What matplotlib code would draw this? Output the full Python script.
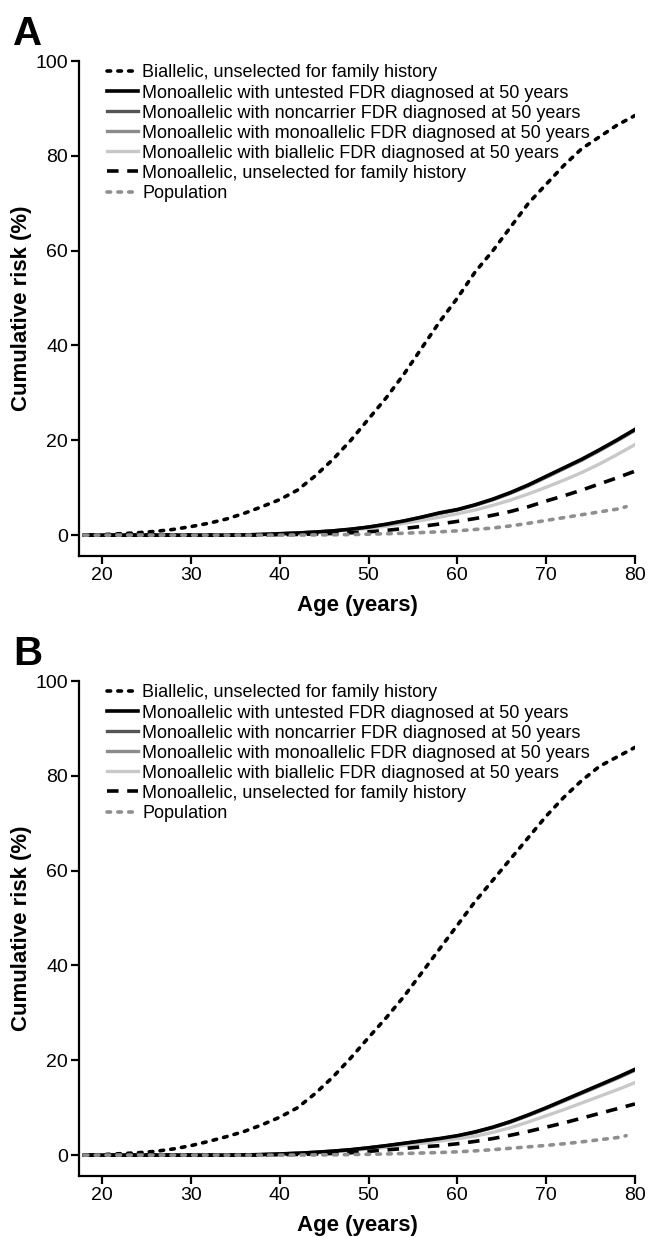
import matplotlib
matplotlib.use("Agg")
import matplotlib.pyplot as plt
import numpy as np

# ages (years) at which curves were read
ages = [18, 20, 22, 24, 26, 28, 30, 32, 34, 36, 38, 40, 42, 44, 46, 48, 50,
        52, 54, 56, 58, 60, 62, 64, 66, 68, 70, 72, 74, 76, 78, 80]
ages_pop = ages[:-1] + [79]

# panel A
A_biallelic = [0, 0.1, 0.3, 0.5, 0.8, 1.2, 1.8, 2.5, 3.4, 4.6, 6.0, 7.5, 9.5, 12.5, 16, 20, 24.5,
               29, 34, 39.5, 45, 50, 55.5, 60, 65, 70, 74, 78, 81.5, 84, 86.5, 88.5]
A_untested = [0, 0, 0, 0, 0, 0, 0, 0, 0, 0.05, 0.15, 0.3, 0.45, 0.65, 0.9, 1.25, 1.7,
              2.3, 3.0, 3.8, 4.7, 5.4, 6.4, 7.6, 9.0, 10.6, 12.4, 14.2, 16.0, 18.0, 20.1, 22.3]
A_noncarrier = [0, 0, 0, 0, 0, 0, 0, 0, 0, 0.05, 0.15, 0.3, 0.45, 0.65, 0.9, 1.25, 1.7,
                2.3, 3.0, 3.8, 4.65, 5.35, 6.35, 7.5, 8.9, 10.5, 12.3, 14.1, 15.9, 17.9, 20.0, 22.2]
A_monoFDR = [0, 0, 0, 0, 0, 0, 0, 0, 0, 0.05, 0.15, 0.3, 0.45, 0.65, 0.9, 1.2, 1.65,
             2.25, 2.95, 3.75, 4.6, 5.3, 6.3, 7.45, 8.85, 10.4, 12.2, 14.0, 15.8, 17.8, 19.9, 22.1]
A_bialFDR = [0, 0, 0, 0, 0, 0, 0, 0, 0, 0.05, 0.12, 0.25, 0.4, 0.55, 0.8, 1.1, 1.45,
             1.9, 2.5, 3.1, 3.8, 4.5, 5.3, 6.3, 7.4, 8.7, 10.1, 11.6, 13.2, 15.0, 17.0, 19.1]
A_unselected = [0, 0, 0, 0, 0, 0, 0, 0, 0, 0, 0.05, 0.1, 0.15, 0.25, 0.35, 0.5, 0.7,
                1.0, 1.4, 1.85, 2.35, 2.9, 3.5, 4.2, 5.0, 6.0, 7.2, 8.3, 9.5, 10.8, 12.1, 13.5]
A_population = [0, 0, 0, 0, 0, 0, 0, 0, 0, 0, 0, 0, 0.02, 0.05, 0.08, 0.12, 0.2,
                0.3, 0.4, 0.55, 0.7, 0.9, 1.2, 1.5, 1.95, 2.5, 3.1, 3.7, 4.3, 4.9, 5.5, 6.0]

# panel B
B_biallelic = [0, 0.1, 0.3, 0.5, 0.8, 1.3, 2.0, 2.9, 3.9, 5.0, 6.4, 8.0, 10.0, 13.0, 16.5, 20.5, 24.8,
               29, 33.5, 38.5, 43.5, 48.5, 53.5, 58, 62.5, 67, 71.5, 75.5, 79, 82, 84, 86]
B_untested = [0, 0, 0, 0, 0, 0, 0, 0, 0, 0.05, 0.12, 0.25, 0.4, 0.6, 0.85, 1.15, 1.55,
              2.0, 2.5, 3.0, 3.5, 4.1, 4.9, 5.9, 7.1, 8.5, 10.0, 11.6, 13.2, 14.8, 16.4, 18.1]
B_noncarrier = [0, 0, 0, 0, 0, 0, 0, 0, 0, 0.05, 0.12, 0.25, 0.4, 0.6, 0.85, 1.15, 1.55,
                2.0, 2.5, 3.0, 3.45, 4.05, 4.85, 5.85, 7.0, 8.4, 9.9, 11.5, 13.1, 14.7, 16.3, 18.0]
B_monoFDR = [0, 0, 0, 0, 0, 0, 0, 0, 0, 0.05, 0.12, 0.25, 0.4, 0.6, 0.8, 1.1, 1.5,
             1.95, 2.45, 2.95, 3.4, 4.0, 4.8, 5.8, 6.95, 8.35, 9.85, 11.4, 13.0, 14.6, 16.2, 17.9]
B_bialFDR = [0, 0, 0, 0, 0, 0, 0, 0, 0, 0.05, 0.1, 0.2, 0.33, 0.5, 0.7, 0.95, 1.3,
             1.65, 2.05, 2.5, 2.95, 3.45, 4.0, 4.8, 5.8, 7.0, 8.3, 9.6, 11.0, 12.4, 13.8, 15.3]
B_unselected = [0, 0, 0, 0, 0, 0, 0, 0, 0, 0, 0.05, 0.1, 0.15, 0.25, 0.35, 0.5, 0.8,
                1.1, 1.4, 1.75, 2.0, 2.4, 2.9, 3.5, 4.2, 5.0, 5.9, 6.8, 7.8, 8.8, 9.8, 10.8]
B_population = [0, 0, 0, 0, 0, 0, 0, 0, 0, 0, 0, 0, 0.02, 0.05, 0.08, 0.12, 0.18,
                0.25, 0.35, 0.45, 0.55, 0.7, 0.9, 1.15, 1.45, 1.75, 2.05, 2.4, 2.8, 3.25, 3.7, 4.1]

labels = ["Biallelic, unselected for family history",
          "Monoallelic with untested FDR diagnosed at 50 years",
          "Monoallelic with noncarrier FDR diagnosed at 50 years",
          "Monoallelic with monoallelic FDR diagnosed at 50 years",
          "Monoallelic with biallelic FDR diagnosed at 50 years",
          "Monoallelic, unselected for family history",
          "Population"]

x_ticks = [20, 30, 40, 50, 60, 70, 80]
y_ticks = [0, 20, 40, 60, 80, 100]

plt.rcParams["font.family"] = ["Liberation Sans", "DejaVu Sans"]

W, H = 659, 1237
fig = plt.figure(figsize=(W / 100, H / 100), dpi=100)


def panel(rect, series, letter, letter_y):
    ax = fig.add_axes(rect)
    bial, untested, noncar, monof, bialf, unsel, pop = series
    h_bial, = ax.plot(ages, bial, color="black", lw=2.6, ls=(0, (1, 2.0)), dash_capstyle="round")
    h_nonc, = ax.plot(ages, noncar, color="#555555", lw=2.4)
    h_monf, = ax.plot(ages, monof, color="#8c8c8c", lw=2.4)
    h_bialf, = ax.plot(ages, bialf, color="#c8c8c8", lw=2.4)
    h_unt, = ax.plot(ages, untested, color="black", lw=2.6)
    h_unsel, = ax.plot(ages, unsel, color="black", lw=2.6, ls=(0, (3.2, 2.4)))
    h_pop, = ax.plot(ages_pop, pop, color="#8f8f8f", lw=2.6, ls=(0, (1, 2.0)), dash_capstyle="round")

    ax.set_xlim(17.4, 80)
    ax.set_ylim(-4.4, 100)
    ax.set_xticks(x_ticks)
    ax.set_yticks(y_ticks)
    for s in ["top", "right"]:
        ax.spines[s].set_visible(False)
    for s in ["left", "bottom"]:
        ax.spines[s].set_linewidth(1.6)
    ax.tick_params(width=1.6, length=6, pad=2, labelsize=14)
    ax.set_xlabel("Age (years)", fontsize=16, fontweight="bold", labelpad=8)
    ax.set_ylabel("Cumulative risk (%)", fontsize=16, fontweight="bold", labelpad=2)

    handles = [h_bial, h_unt, h_nonc, h_monf, h_bialf, h_unsel, h_pop]
    ax.legend(handles, labels, loc="upper left", bbox_to_anchor=(0.05, 0.993),
              frameon=False, fontsize=13, handlelength=1.75, handletextpad=0.2,
              labelspacing=0.17, borderaxespad=0, borderpad=0)

    fig.text(13 / W, 1 - letter_y / H, letter, fontsize=29, fontweight="bold",
             va="baseline", ha="left")
    return ax


left = 79 / W
width = (635 - 79) / W
height = (556 - 61) / H
panel([left, 1 - 556 / H, width, height],
      [A_biallelic, A_untested, A_noncarrier, A_monoFDR, A_bialFDR, A_unselected, A_population],
      "A", 45)
panel([left, 1 - 1176 / H, width, height],
      [B_biallelic, B_untested, B_noncarrier, B_monoFDR, B_bialFDR, B_unselected, B_population],
      "B", 665)

fig.savefig("out.png", dpi=100)
